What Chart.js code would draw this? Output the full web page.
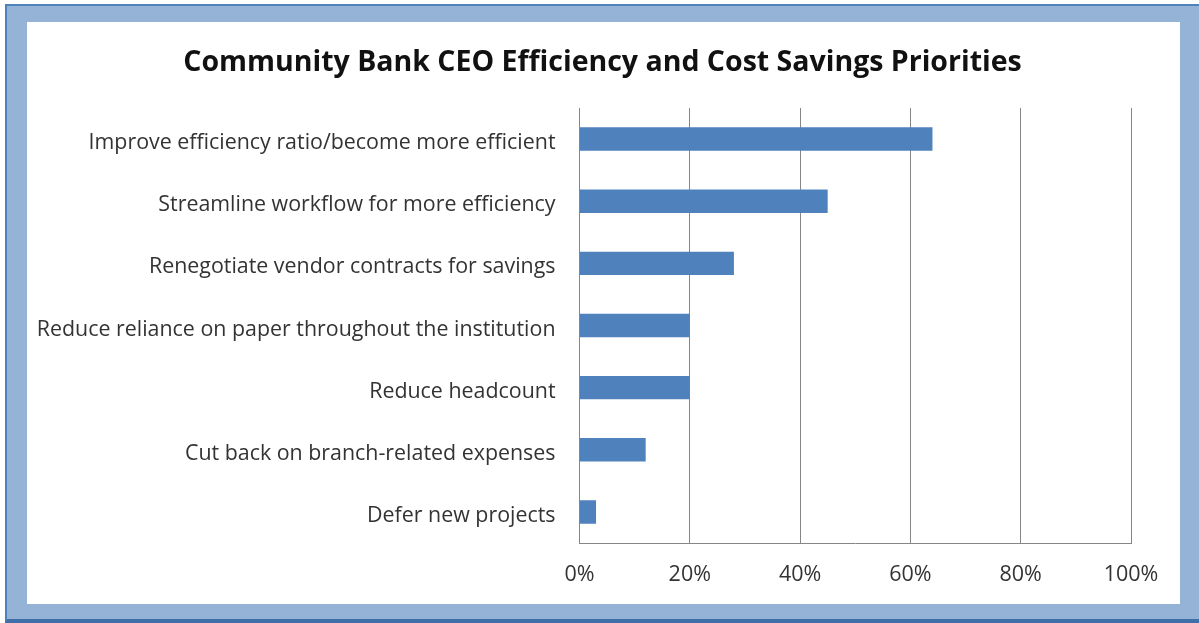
<!DOCTYPE html>
<html>
<head>
<meta charset="utf-8">
<script src="https://cdn.jsdelivr.net/npm/chart.js@4/dist/chart.umd.min.js"></script>
<style>
  html, body { margin: 0; padding: 0; background: #ffffff; }
  body { width: 1199px; height: 623px; position: relative; overflow: hidden; }
  #frame {
    position: absolute; left: 5px; top: 4px; width: 1194px; height: 619px;
    box-sizing: border-box;
    background: #95b3d7;
    border-top: 2px solid #4f81bd;
    border-left: 2px solid #4f81bd;
    border-bottom: 4px solid #3f6fa8;
  }
  #box {
    position: absolute; left: 27px; top: 22px; width: 1153px; height: 582px;
    background: #ffffff;
  }
  canvas { display: block; }
</style>
</head>
<body>
<div id="frame"></div>
<div id="box"><canvas id="chart" width="1153" height="582"></canvas></div>
<script>
// Survey responses: share of CEOs naming each priority
const categories = [
  "Improve efficiency ratio/become more efficient",
  "Streamline workflow for more efficiency",
  "Renegotiate vendor contracts for savings",
  "Reduce reliance on paper throughout the institution",
  "Reduce headcount",
  "Cut back on branch-related expenses",
  "Defer new projects"
];
const shares = [64, 45, 28, 20, 20, 12, 3];
const tickValues = [0, 20, 40, 60, 80, 100];
const chartTitle = "Community Bank CEO Efficiency and Cost Savings Priorities";

const gridGray = "#868686";
const textFont = "'Open Sans'";

// Title centred on the whole white panel (not just the plot's layout box)
const panelTitle = {
  id: "panelTitle",
  afterDraw(chart) {
    const ctx = chart.ctx;
    ctx.save();
    ctx.font = "bold 28.5px " + textFont;
    ctx.fillStyle = "#111111";
    ctx.textAlign = "center";
    ctx.textBaseline = "middle";
    ctx.fillText(chartTitle, chart.width / 2 - 1, 41);
    ctx.restore();
  }
};

new Chart(document.getElementById("chart"), {
  type: "bar",
  data: {
    labels: categories,
    datasets: [{
      data: shares,
      backgroundColor: "#4f81bd",
      borderWidth: 0,
      categoryPercentage: 1.0,
      barPercentage: 0.377
    }]
  },
  plugins: [panelTitle],
  options: {
    indexAxis: "y",
    responsive: false,
    animation: false,
    devicePixelRatio: 1,
    layout: { padding: { top: 86, right: 49, bottom: 0, left: 0 } },
    plugins: {
      legend: { display: false },
      tooltip: { enabled: false },
      title: { display: false }
    },
    scales: {
      x: {
        min: 0, max: 100,
        afterBuildTicks: (scale) => { scale.ticks = tickValues.map(v => ({ value: v })); },
        afterFit: (scale) => { scale.height = 61; },
        grid: { color: gridGray, lineWidth: 1, drawTicks: false },
        border: { display: true, color: gridGray, width: 1 },
        ticks: {
          padding: 19,
          color: "#333333",
          font: { family: textFont, size: 21.5 },
          callback: (v) => v + "%"
        }
      },
      y: {
        afterFit: (scale) => { scale.width = 552.5; },
        grid: { display: false, drawTicks: false },
        border: { display: true, color: gridGray, width: 1 },
        ticks: {
          padding: 24,
          labelOffset: 4,
          color: "#333333",
          font: { family: textFont, size: 21.4 }
        }
      }
    }
  }
});
</script>
</body>
</html>
